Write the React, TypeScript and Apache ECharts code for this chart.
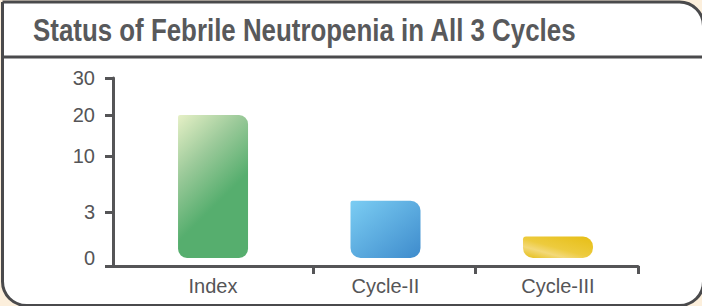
import React, { useEffect, useRef } from "react";
import * as echarts from "echarts";

// ---- data ----
const categories = ["Index", "Cycle-II", "Cycle-III"];
const values = [20, 4.4, 1.4];
const yTickLabels = [0, 3, 10, 20, 30];
const titleText = "Status of Febrile Neutropenia in All 3 Cycles";

// ---- layout (non-uniform y scale of the original, in px-like units) ----
const yTickPositions = [0, 46, 102, 143, 180];
const xTickPositions = [0.58, 1.52, 2.464];

function toPos(v: number): number {
  for (let i = 1; i < yTickLabels.length; i++) {
    const a = yTickLabels[i - 1];
    const b = yTickLabels[i];
    if (v <= b) {
      const pa = yTickPositions[i - 1];
      const pb = yTickPositions[i];
      return pa + ((v - a) / (b - a)) * (pb - pa);
    }
  }
  return yTickPositions[yTickPositions.length - 1];
}

const AX = "#555557";
const TXT = "#555557";

const barStyles = [
  {
    color: new echarts.graphic.LinearGradient(0, 0, 0.35, 0.72, [
      { offset: 0, color: "#e6f0c6" },
      { offset: 0.5, color: "#9cca9a" },
      { offset: 1, color: "#56ae6e" },
    ]),
    borderRadius: [2, 9, 9, 9],
  },
  {
    color: new echarts.graphic.LinearGradient(0, 0, 1, 1, [
      { offset: 0, color: "#7bcdf3" },
      { offset: 1, color: "#3e8bcc" },
    ]),
    borderRadius: [2, 10, 10, 10],
  },
  {
    color: new echarts.graphic.LinearGradient(0, 1, 0.9, 0, [
      { offset: 0, color: "#e4bc10" },
      { offset: 0.3, color: "#f3d979" },
      { offset: 0.5, color: "#edcb3e" },
      { offset: 1, color: "#e7bf18" },
    ]),
    borderRadius: [3, 10, 10, 10],
  },
];

export default function App() {
  const ref = useRef<HTMLDivElement>(null);
  useEffect(() => {
    if (!ref.current) return;
    const chart = echarts.init(ref.current, null, { renderer: "svg" });
    chart.setOption({
      animation: false,
      backgroundColor: "#fcefdc",
      graphic: [
        {
          type: "rect",
          z: -10,
          shape: { x: 2.5, y: 2, width: 701, height: 303.5, r: [0, 24, 24, 24] },
          style: { fill: "#ffffff", stroke: "#4a4a4c", lineWidth: 3 },
        },
        {
          type: "line",
          z: -9,
          shape: { x1: 2, y1: 57, x2: 702, y2: 57 },
          style: { stroke: "#4a4a4c", lineWidth: 3 },
        },
        {
          type: "text",
          z: 10,
          x: 33,
          y: 30,
          scaleX: 0.835,
          style: {
            text: titleText,
            fill: "#58595b",
            font: "bold 31px 'Liberation Sans', Arial, sans-serif",
            textVerticalAlign: "middle",
          },
        },
      ],
      grid: { left: 113, right: 64, top: 78, bottom: 40, outerBoundsMode: "none" },
      xAxis: {
        type: "value",
        min: -0.58,
        max: 2.464,
        splitLine: { show: false },
        axisLine: { show: true, onZero: false, lineStyle: { color: AX, width: 3 } },
        axisTick: {
          show: true,
          customValues: xTickPositions,
          length: 8,
          lineStyle: { color: AX, width: 3 },
        },
        axisLabel: {
          customValues: categories.map((_, i) => i),
          formatter: (v: number) => categories[Math.round(v)] ?? "",
          color: TXT,
          fontSize: 20,
          fontFamily: "'Liberation Sans', Arial, sans-serif",
          margin: 10,
        },
      },
      yAxis: {
        type: "value",
        min: -8,
        max: 180,
        splitLine: { show: false },
        axisLine: { show: true, onZero: false, lineStyle: { color: AX, width: 3 } },
        axisTick: {
          show: true,
          customValues: [-8, ...yTickPositions.slice(1)],
          length: 8,
          lineStyle: { color: AX, width: 3 },
        },
        axisLabel: {
          customValues: yTickPositions,
          formatter: (v: number) => {
            const i = yTickPositions.indexOf(v);
            return i >= 0 ? String(yTickLabels[i]) : "";
          },
          color: TXT,
          fontSize: 20,
          fontFamily: "'Liberation Sans', Arial, sans-serif",
          margin: 18,
        },
      },
      series: [
        {
          type: "bar",
          barWidth: 70,
          data: values.map((v, i) => ({
            value: [i, toPos(v)],
            itemStyle: barStyles[i],
          })),
        },
      ],
    });
    return () => chart.dispose();
  }, []);
  return (
    <div
      ref={ref}
      style={{ position: "absolute", left: 0, top: 0, width: 702, height: 306 }}
    />
  );
}
